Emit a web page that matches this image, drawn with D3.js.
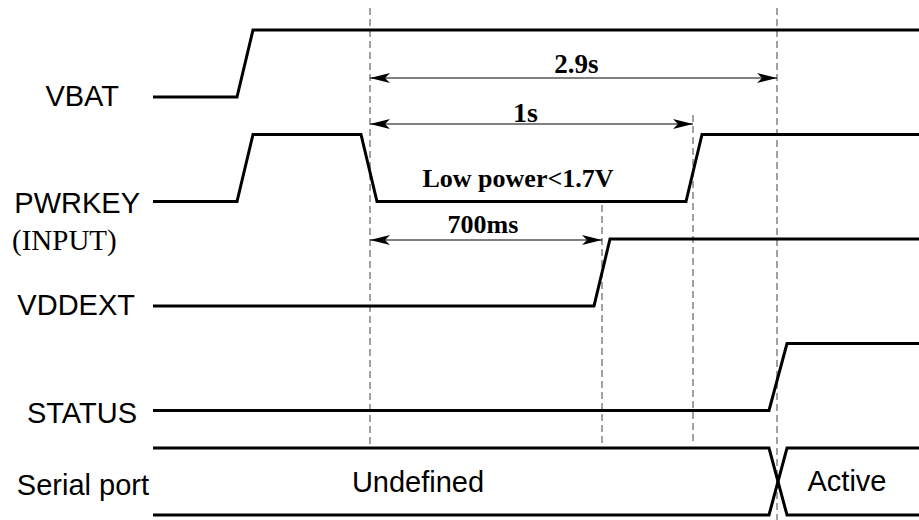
<!DOCTYPE html>
<html>
<head>
<meta charset="utf-8">
<script src="https://cdn.jsdelivr.net/npm/d3@7"></script>
<style>
  html, body { margin:0; padding:0; background:#fff; }
  .sig { font-family:"Liberation Sans", Arial, sans-serif; }
  .ser { font-family:"Liberation Serif", "Times New Roman", serif; }
</style>
</head>
<body>
<div id="body"></div>
<script>
//DATA - time in diagram units, 0 = start of the traces
var rows = ["VBAT", "PWRKEY", "VDDEXT", "STATUS", "Serial port"];

var vbatWave   = [[0,0],[84,0],[100,1],[766,1]];
var pwrkeyWave = [[0,0],[84,0],[100,1],[208,1],[224,0],[533,0],[549,1],[766,1]];
var vddextWave = [[0,0],[441,0],[457,1],[766,1]];
var statusWave = [[0,0],[616,0],[634,1],[766,1]];
var waves = [vbatWave, pwrkeyWave, vddextWave, statusWave];

var busEdge = [616, 634];              // serial port changes state here
var busStates = ["Undefined", "Active"];

var markers = [217, 449, 540, 624];    // dashed reference lines
var spans = [
  {from:217, to:624, label:"2.9s"},
  {from:217, to:540, label:"1s"},
  {from:217, to:449, label:"700ms"}
];
var lowNote = "Low power<1.7V";

var width = 919;
var height = 520;

var svg = d3.select("#body").append("svg")
  .attr("width", width)
  .attr("height", height);

var x = d3.scaleLinear().domain([0, 766]).range([153, 919]);
var row = d3.scalePoint().domain(rows).range([97, 515]);  // low level of each row
var amp = 67;

var defs = svg.append("defs");
defs.append("marker").attr("id","ah")
  .attr("viewBox","0 0 20 10").attr("refX",20).attr("refY",5)
  .attr("markerWidth",20).attr("markerHeight",10)
  .attr("markerUnits","userSpaceOnUse")
  .attr("orient","auto-start-reverse")
  .append("path").attr("d","M0,0 L20,5 L0,10 L5,5 Z").attr("fill","#000");

//---DASHED MARKERS
var mk = [[8,445],[205,445],[115,445],[8,520]];
svg.append("g").selectAll("line").data(markers).join("line")
  .attr("x1", function(d){ return x(d); })
  .attr("x2", function(d){ return x(d); })
  .attr("y1", function(d,i){ return mk[i][0]; })
  .attr("y2", function(d,i){ return mk[i][1]; })
  .attr("stroke","#444").attr("stroke-width",1)
  .attr("stroke-dasharray","7,4");

//---WAVES
var line = d3.line();
svg.append("g").selectAll("path").data(waves).join("path")
  .attr("fill","none").attr("stroke","#000").attr("stroke-width",3)
  .attr("d", function(w,i){
    var y0 = row(rows[i]);
    return line(w.map(function(p){ return [x(p[0]), y0 - p[1]*amp]; }));
  });

//---BUS
var by = row("Serial port"), bt = by - amp;
var bus = svg.append("g").attr("fill","none").attr("stroke","#000").attr("stroke-width",3);
bus.append("path").attr("d", line([[x(0),bt],[x(busEdge[0]),bt],[x(busEdge[1]),by],[x(766),by]]));
bus.append("path").attr("d", line([[x(0),by],[x(busEdge[0]),by],[x(busEdge[1]),bt],[x(766),bt]]));

svg.append("text").attr("class","sig")
  .attr("x", 418).attr("y", 492)
  .attr("text-anchor","middle").attr("font-size",29).text(busStates[0]);
svg.append("text").attr("class","sig")
  .attr("x", 847).attr("y", 491)
  .attr("text-anchor","middle").attr("font-size",29).text(busStates[1]);

//---ROW LABELS
var lblX = [119, 140, 135, 137, 149];
var lblDy = [9, 11, 9, 12, -20];
svg.append("g").selectAll("text").data(rows).join("text")
  .attr("class","sig")
  .attr("x", function(d,i){ return lblX[i]; })
  .attr("y", function(d,i){ return row(d) + lblDy[i]; })
  .attr("text-anchor","end")
  .attr("font-size",29)
  .text(function(d){ return d; });
svg.append("text").attr("class","ser")
  .attr("x",12).attr("y",250).attr("font-size",29).text("(INPUT)");

//---DIMENSION ARROWS
var spanY = [78, 124, 240];
var spanSize = [27, 28, 26];
var spanDy = [5, 2, 7];
var spanDx = [3, -6, -3];
var dims = svg.append("g");
dims.selectAll("line").data(spans).join("line")
  .attr("x1", function(d){ return x(d.from); })
  .attr("x2", function(d){ return x(d.to); })
  .attr("y1", function(d,i){ return spanY[i]; })
  .attr("y2", function(d,i){ return spanY[i]; })
  .attr("stroke","#000").attr("stroke-width",1)
  .attr("marker-start","url(#ah)").attr("marker-end","url(#ah)");
dims.selectAll("text").data(spans).join("text")
  .attr("class","ser")
  .attr("x", function(d,i){ return (x(d.from)+x(d.to))/2 + spanDx[i]; })
  .attr("y", function(d,i){ return spanY[i] - spanDy[i]; })
  .attr("text-anchor","middle")
  .attr("font-weight","bold")
  .attr("font-size", function(d,i){ return spanSize[i]; })
  .text(function(d){ return d.label; });

svg.append("text").attr("class","ser")
  .attr("x", 518).attr("y", 187)
  .attr("text-anchor","middle").attr("font-weight","bold").attr("font-size",26)
  .text(lowNote);
</script>
</body>
</html>
